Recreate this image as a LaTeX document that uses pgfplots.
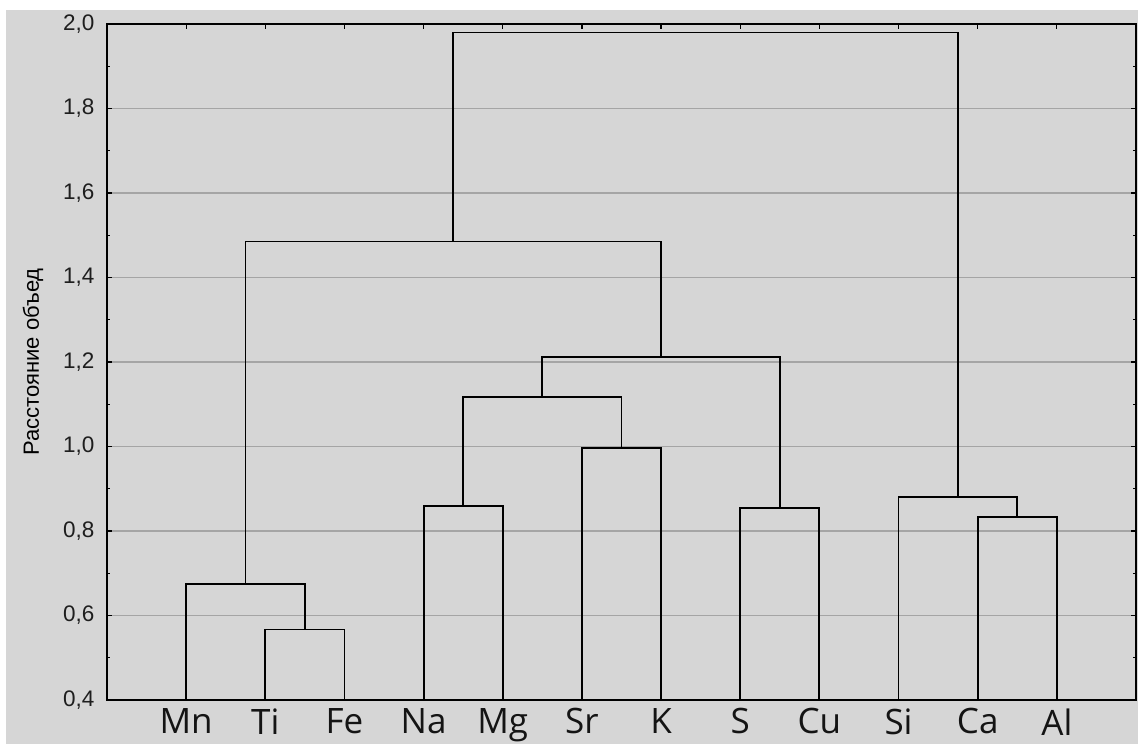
\documentclass[border=0pt]{standalone}
\usepackage{fontspec}
\setmainfont{Liberation Sans}
\newfontfamily\xlfont{Open Sans}
\usepackage{pgfplots}
\pgfplotsset{compat=1.18}
\definecolor{bg}{RGB}{214,214,214}
\definecolor{gridc}{RGB}{165,165,165}
\tikzset{dend/.style={black, line width=1.8pt, solid, mark=none, line join=miter}}
\begin{document}
\begin{tikzpicture}
\path[use as bounding box] (0,0) rectangle (1138pt,744pt);
\fill[white] (0,0) rectangle (1138pt,744pt);
\fill[bg] (6pt,0) rectangle (1138pt,734pt);
\begin{axis}[
  at={(107pt,44pt)}, anchor=south west,
  scale only axis, width=1029pt, height=676pt,
  xmin=0, xmax=13, ymin=0.4, ymax=2.0,
  xtick={1,...,12},
  xticklabels={Mn,Ti,Fe,Na,Mg,Sr,K,S,Cu,Si,Ca,Al},
  ytick={0.4,0.6,...,2.01},
  minor y tick num=1,
  tick align=inside,
  tick pos=both,
  xticklabel pos=lower, yticklabel pos=left,
  major tick length=5pt, minor tick length=3pt,
  every tick/.style={black, line width=1.2pt},
  axis line style={black, line width=1.6pt},
  ymajorgrids,
  major grid style={gridc, line width=1.1pt},
  /pgf/number format/assume math mode=true,
  yticklabel style={/pgf/number format/.cd, use comma, fixed, fixed zerofill, precision=1, /tikz/.cd, font=\fontsize{22.5}{25}\selectfont, color={rgb,255:red,30;green,30;blue,30}, xshift=-9pt},
  xticklabel style={font=\xlfont\fontsize{35}{40}\selectfont, color={rgb,255:red,20;green,20;blue,20}, yshift=-5pt},
  ylabel={Расстояние объед},
  ylabel style={at={(axis description cs:-0.0719,0.5)}, anchor=center, font=\fontsize{22}{25}\selectfont},
  clip=false,
]
\addplot[dend] coordinates {(2,0.4) (2,0.567) (3,0.567) (3,0.4)};
\addplot[dend] coordinates {(1,0.4) (1,0.675) (2.5,0.675) (2.5,0.567)};
\addplot[dend] coordinates {(4,0.4) (4,0.859) (5,0.859) (5,0.4)};
\addplot[dend] coordinates {(6,0.4) (6,0.997) (7,0.997) (7,0.4)};
\addplot[dend] coordinates {(4.5,0.859) (4.5,1.117) (6.5,1.117) (6.5,0.997)};
\addplot[dend] coordinates {(8,0.4) (8,0.855) (9,0.855) (9,0.4)};
\addplot[dend] coordinates {(5.5,1.117) (5.5,1.212) (8.5,1.212) (8.5,0.855)};
\addplot[dend] coordinates {(1.75,0.675) (1.75,1.485) (7,1.485) (7,1.212)};
\addplot[dend] coordinates {(11,0.4) (11,0.833) (12,0.833) (12,0.4)};
\addplot[dend] coordinates {(10,0.4) (10,0.880) (11.5,0.880) (11.5,0.833)};
\addplot[dend] coordinates {(4.375,1.485) (4.375,1.980) (10.75,1.980) (10.75,0.880)};
\end{axis}
\end{tikzpicture}
\end{document}
